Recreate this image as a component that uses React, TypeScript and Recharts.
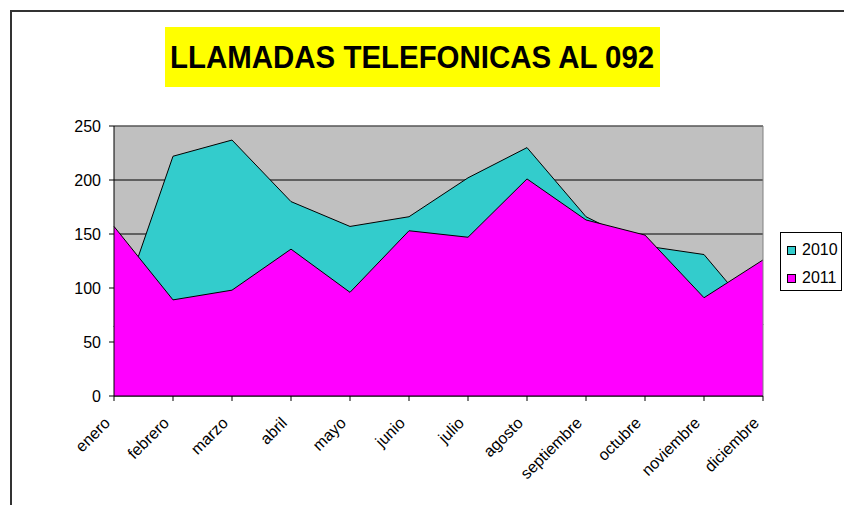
import {
	Area,
	AreaChart,
	CartesianGrid,
	ReferenceLine,
	XAxis,
	YAxis,
} from "recharts";

const MONTHS = [
	"enero",
	"febrero",
	"marzo",
	"abril",
	"mayo",
	"junio",
	"julio",
	"agosto",
	"septiembre",
	"octubre",
	"noviembre",
	"diciembre",
];
const CALLS_2010 = [64, 222, 237, 180, 157, 166, 202, 230, 166, 139, 131, 66];
const CALLS_2011 = [157, 89, 98, 136, 96, 153, 147, 201, 163, 149, 91, 126];
const Y_TICKS = [0, 50, 100, 150, 200, 250];

const SERIES = [
	{ key: "2010", color: "#33CCCC" },
	{ key: "2011", color: "#FF00FF" },
];

const data = MONTHS.map((month, i) => ({
	month,
	"2010": CALLS_2010[i],
	"2011": CALLS_2011[i],
}));

const FONT = '"Liberation Sans", Arial, sans-serif';

// legend drawn as a plain box, like Excel's
const ExcelLegend = () => (
	<div
		style={{
			position: "absolute",
			left: 780,
			top: 232,
			width: 62,
			height: 59,
			border: "1px solid #000",
			background: "#fff",
			boxSizing: "border-box",
			padding: "3px 0 0 6px",
			fontFamily: FONT,
			fontSize: 16,
			color: "#000",
		}}
	>
		{SERIES.map((s) => (
			<div
				key={s.key}
				style={{ display: "flex", alignItems: "center", height: 28 }}
			>
				<span
					style={{
						display: "inline-block",
						width: 7,
						height: 7,
						background: s.color,
						border: "1px solid #000",
						marginRight: 6,
					}}
				/>
				{s.key}
			</div>
		))}
	</div>
);

export default function App() {
	return (
		<div
			style={{
				position: "fixed",
				left: 0,
				top: 0,
				width: 844,
				height: 505,
				background: "#fff",
				overflow: "hidden",
			}}
		>
			<div
				style={{
					position: "absolute",
					left: 10,
					top: 10,
					width: 900,
					height: 600,
					borderTop: "2px solid #333",
					borderLeft: "2px solid #333",
				}}
			/>
			<div
				style={{
					position: "absolute",
					left: 165,
					top: 27,
					width: 495,
					height: 60,
					background: "#FFFF00",
					display: "flex",
					alignItems: "center",
					justifyContent: "center",
					whiteSpace: "nowrap",
					fontFamily: FONT,
					fontWeight: "bold",
					fontSize: 32,
					color: "#000",
				}}
			>
				<span style={{ display: "inline-block", transform: "scaleX(0.92)" }}>
					LLAMADAS TELEFONICAS AL 092
				</span>
			</div>
			<div style={{ position: "absolute", left: 0, top: 0 }}>
				<AreaChart
					width={844}
					height={505}
					data={data}
					margin={{ top: 126, right: 81, bottom: 49, left: 54 }}
				>
					<CartesianGrid
						vertical={false}
						stroke="#000"
						strokeOpacity={1}
						fill="#C0C0C0"
						fillOpacity={1}
					/>
					<XAxis
						dataKey="month"
						interval={0}
						height={60}
						padding={{ left: 0, right: 0 }}
						axisLine={{ stroke: "#000" }}
						tickLine={{ stroke: "#000" }}
						tickSize={5}
						tickMargin={9}
						angle={-45}
						textAnchor="end"
						tick={{ fill: "#000", fontSize: 16, fontFamily: FONT, dx: -11, dy: 6 }}
					/>
					<YAxis
						width={60}
						domain={[0, 250]}
						ticks={Y_TICKS}
						axisLine={{ stroke: "#000" }}
						tickLine={{ stroke: "#000" }}
						tickSize={5}
						tickMargin={8}
						tick={{ fill: "#000", fontSize: 16, fontFamily: FONT }}
					/>
					{SERIES.map((s) => (
						<Area
							key={s.key}
							type="linear"
							dataKey={s.key}
							stroke="#000"
							strokeWidth={1}
							fill={s.color}
							fillOpacity={1}
							isAnimationActive={false}
						/>
					))}
					<ReferenceLine y={250} stroke="#808080" />
					<ReferenceLine x="diciembre" stroke="#808080" />
				</AreaChart>
			</div>
			<ExcelLegend />
		</div>
	);
}
